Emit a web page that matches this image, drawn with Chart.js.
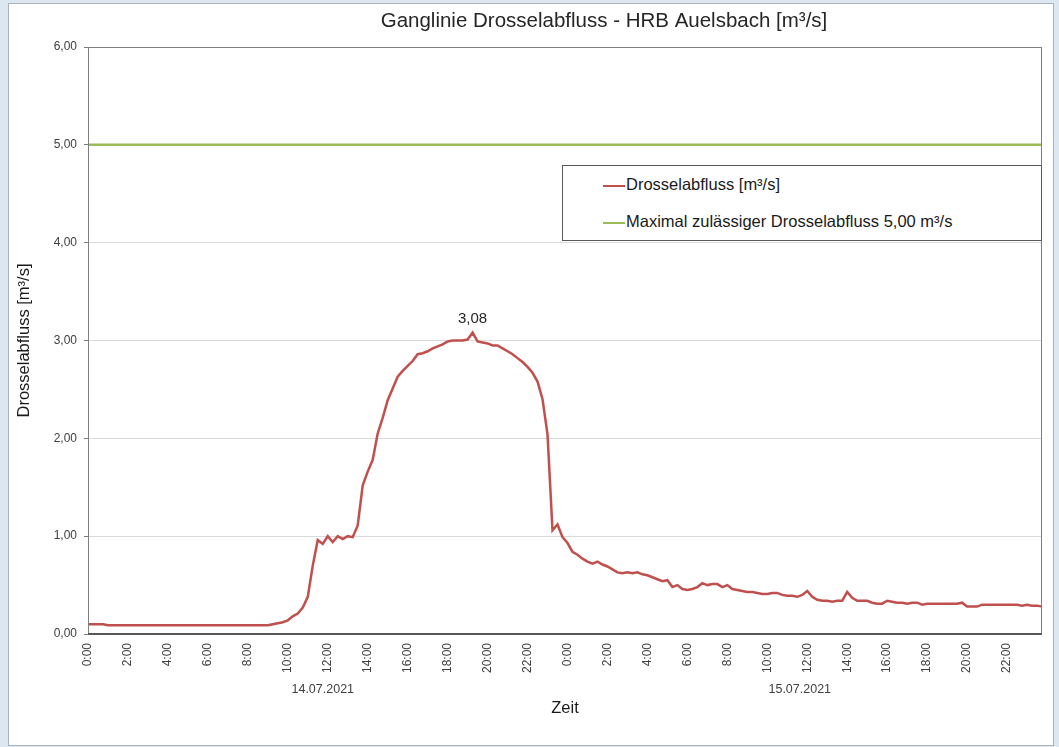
<!DOCTYPE html>
<html>
<head>
<meta charset="utf-8">
<script src="https://cdn.jsdelivr.net/npm/chart.js@4.4.1/dist/chart.umd.min.js"></script>
<style>
  body { margin: 0; background: #dde7f2; width: 1059px; height: 747px; overflow: hidden; font-family: "Liberation Sans", Arial, sans-serif; }
  #rahmen { position: absolute; left: 8px; top: 3px; width: 1044px; height: 741px; background: #fff; border: 1px solid #a9b4c0; }
  #legende { position: absolute; left: 553px; top: 161px; width: 478px; height: 74px; border: 1px solid #595959; background: #fff; }
  .eintrag { position: absolute; left: 40px; font-size: 16.5px; color: #1a1a1a; white-space: nowrap; }
  .strich { display: inline-block; width: 22px; height: 2px; vertical-align: middle; margin-right: 1px; }
</style>
</head>
<body>
<div id="rahmen">
  <canvas id="diagramm" width="1044" height="741"></canvas>
  <div id="legende"></div>
</div>
<script>
// Titel und Beschriftungen
const titel = 'Ganglinie Drosselabfluss - HRB Auelsbach [m³/s]';
const tage = ['14.07.2021', '15.07.2021'];
const serienNamen = ['Drosselabfluss [m³/s]', 'Maximal zulässiger Drosselabfluss 5,00 m³/s'];
const yTicks = [0, 1, 2, 3, 4, 5, 6];

// Drosselabfluss in m³/s, 15-Minuten-Werte ab 14.07.2021 0:00
const drosselabfluss = [
  0.10,0.10,0.10,0.10, 0.09,0.09,0.09,0.09, 0.09,0.09,0.09,0.09, 0.09,0.09,0.09,0.09,
  0.09,0.09,0.09,0.09, 0.09,0.09,0.09,0.09, 0.09,0.09,0.09,0.09, 0.09,0.09,0.09,0.09,
  0.09,0.09,0.09,0.09, 0.09,0.10,0.11,0.12, 0.14,0.18,0.21,0.27, 0.38,0.70,0.96,0.92,
  1.00,0.94,1.00,0.97, 1.00,0.99,1.11,1.52, 1.66,1.78,2.05,2.21, 2.39,2.51,2.63,2.69,
  2.74,2.79,2.86,2.87, 2.89,2.92,2.94,2.96, 2.99,3.00,3.00,3.00, 3.01,3.08,2.99,2.98,
  2.97,2.95,2.95,2.92, 2.89,2.86,2.82,2.78, 2.73,2.67,2.58,2.40, 2.04,1.06,1.12,0.99,
  // 15.07.2021
  0.93,0.84,0.81,0.77, 0.74,0.72,0.74,0.71, 0.69,0.66,0.63,0.62, 0.63,0.62,0.63,0.61,
  0.60,0.58,0.56,0.54, 0.55,0.48,0.50,0.46, 0.45,0.46,0.48,0.52, 0.50,0.51,0.51,0.48,
  0.50,0.46,0.45,0.44, 0.43,0.43,0.42,0.41, 0.41,0.42,0.42,0.40, 0.39,0.39,0.38,0.40,
  0.44,0.38,0.35,0.34, 0.34,0.33,0.34,0.34, 0.43,0.37,0.34,0.34, 0.34,0.32,0.31,0.31,
  0.34,0.33,0.32,0.32, 0.31,0.32,0.32,0.30, 0.31,0.31,0.31,0.31, 0.31,0.31,0.31,0.32,
  0.28,0.28,0.28,0.30, 0.30,0.30,0.30,0.30, 0.30,0.30,0.30,0.29, 0.30,0.29,0.29,0.28
];
const maxZulaessig = 5.00;

const schrittStunden = 0.25;
const zeitEnde = (drosselabfluss.length - 1) * schrittStunden;

const komma = v => v.toFixed(2).replace('.', ',');

const titelPlugin = {
  id: 'titelUndTage',
  afterDraw(chart) {
    const ctx = chart.ctx;
    const x = chart.scales.x;
    ctx.save();
    ctx.fillStyle = '#262626';
    ctx.font = '20.5px "Liberation Sans", Arial';
    ctx.textAlign = 'center';
    ctx.textBaseline = 'middle';
    ctx.fillText(titel, (chart.chartArea.left + chart.chartArea.right) / 2 + 39, 17);

    // Rahmen der Zeichenfläche
    const a = chart.chartArea;
    ctx.strokeStyle = '#7f7f7f';
    ctx.lineWidth = 1;
    ctx.strokeRect(a.left + 0.5, a.top + 0.5, a.right - a.left - 1, a.bottom - a.top);
    ctx.strokeStyle = '#595959';
    ctx.lineWidth = 2;
    ctx.beginPath();
    ctx.moveTo(a.left, a.bottom);
    ctx.lineTo(a.right, a.bottom);
    ctx.stroke();

    // Datumsbeschriftung
    ctx.fillStyle = '#404040';
    ctx.font = '12.5px "Liberation Sans", Arial';
    tage.forEach((t, i) => {
      const start = i * 24;
      const ende = Math.min(start + 24, zeitEnde);
      ctx.fillText(t, x.getPixelForValue((start + ende) / 2 - 0.25), 686);
    });

    // Spitzenwert
    const meta = chart.getDatasetMeta(0);
    let iMax = 0;
    drosselabfluss.forEach((v, i) => { if (v > drosselabfluss[iMax]) iMax = i; });
    const p = meta.data[iMax];
    ctx.fillStyle = '#262626';
    ctx.font = '15px "Liberation Sans", Arial';
    ctx.fillText(komma(drosselabfluss[iMax]), p.x, p.y - 14);
    ctx.restore();
  }
};

const chart = new Chart(document.getElementById('diagramm'), {
  type: 'line',
  data: {
    datasets: [{
      label: serienNamen[0],
      data: drosselabfluss.map((v, i) => ({ x: i * schrittStunden, y: v })),
      borderColor: '#c0504d',
      borderWidth: 2.5,
      pointRadius: 0,
      tension: 0
    }, {
      label: serienNamen[1],
      data: [{ x: 0, y: maxZulaessig }, { x: zeitEnde, y: maxZulaessig }],
      borderColor: '#9bbb59',
      borderWidth: 2.5,
      pointRadius: 0
    }]
  },
  options: {
    responsive: false,
    animation: false,
    layout: { padding: { top: 43, right: 11, left: 0, bottom: 0 } },
    plugins: { legend: { display: false }, tooltip: { enabled: false } },
    scales: {
      x: {
        type: 'linear',
        min: 0,
        max: zeitEnde,
        afterFit: s => { s.height = 111; },
        grid: { display: false, drawTicks: false },
        border: { display: false },
        ticks: {
          stepSize: 2,
          includeBounds: false,
          autoSkip: false,
          minRotation: 90,
          maxRotation: 90,
          padding: 9,
          color: '#404040',
          font: { family: '"Liberation Sans", Arial', size: 12 },
          callback: v => (v % 24) + ':00'
        },
        title: {
          display: true,
          text: 'Zeit',
          color: '#1a1a1a',
          font: { family: '"Liberation Sans", Arial', size: 16.5 },
          padding: { top: 0, bottom: 27 }
        }
      },
      y: {
        min: yTicks[0],
        max: yTicks[yTicks.length - 1],
        afterFit: s => { s.width = 79; },
        afterBuildTicks: s => { s.ticks = yTicks.map(v => ({ value: v })); },
        grid: { color: '#d9d9d9', tickLength: 4, tickColor: '#7f7f7f' },
        border: { display: false },
        ticks: {
          padding: 7,
          color: '#404040',
          font: { family: '"Liberation Sans", Arial', size: 12 },
          callback: v => komma(v)
        },
        title: {
          display: true,
          text: 'Drosselabfluss [m³/s]',
          color: '#1a1a1a',
          font: { family: '"Liberation Sans", Arial', size: 16.5 },
          padding: { top: 6, bottom: 0 }
        }
      }
    }
  },
  plugins: [titelPlugin]
});

// Legende
const legende = document.getElementById('legende');
chart.data.datasets.forEach((ds, i) => {
  const e = document.createElement('div');
  e.className = 'eintrag';
  e.style.top = (9 + i * 37) + 'px';
  e.innerHTML = '<span class="strich" style="background:' + ds.borderColor + '"></span>' + ds.label;
  legende.appendChild(e);
});
</script>
</body>
</html>
